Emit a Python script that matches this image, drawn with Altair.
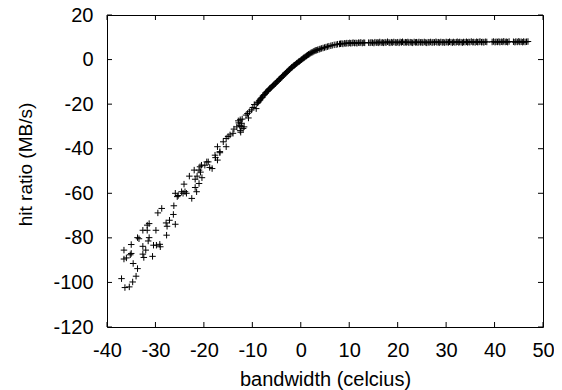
import altair as alt
import pandas as pd

x_ticks = [-40, -30, -20, -10, 0, 10, 20, 30, 40, 50]
y_ticks = [-120, -100, -80, -60, -40, -20, 0, 20]

steep_points = [
    (-37.0, -98.3), (-36.3, -102.3), (-35.4, -102.0), (-34.7, -99.8), (-34.0, -97.2),
    (-33.7, -93.8), (-34.6, -91.5), (-36.5, -89.5), (-36.0, -89.0), (-36.5, -85.5),
    (-35.0, -87.0), (-35.2, -87.6), (-35.0, -83.0), (-33.7, -79.9), (-33.4, -80.4),
    (-32.6, -76.6), (-31.7, -74.3), (-31.3, -73.6), (-31.7, -76.6), (-32.6, -83.8),
    (-32.6, -87.3), (-32.4, -88.8), (-32.0, -85.5), (-31.5, -81.4), (-31.3, -79.9),
    (-30.6, -88.3), (-30.4, -83.3), (-29.9, -76.6), (-29.8, -83.3), (-29.1, -82.9),
    (-29.0, -84.0), (-29.5, -68.8), (-28.7, -66.8), (-27.8, -73.3), (-27.6, -74.8),
    (-27.7, -78.8), (-27.1, -72.1), (-26.3, -69.5), (-25.9, -73.9), (-26.2, -65.6),
    (-25.9, -60.0), (-25.5, -61.5), (-25.3, -61.0), (-24.6, -59.3), (-24.3, -60.0),
    (-23.9, -59.3), (-24.1, -55.9), (-23.6, -60.0), (-22.5, -62.3), (-23.0, -52.3),
    (-22.0, -49.6), (-21.8, -53.7), (-21.8, -57.4), (-21.5, -59.3), (-21.4, -52.3),
    (-21.0, -49.6), (-21.0, -55.6), (-20.7, -50.5), (-20.5, -47.4), (-20.4, -53.0),
    (-20.8, -48.1), (-19.8, -47.4), (-19.4, -45.9), (-19.1, -45.9), (-18.8, -48.4),
    (-18.3, -48.9), (-17.7, -42.9), (-17.6, -44.0), (-17.2, -45.1), (-17.2, -39.1),
    (-16.7, -41.8), (-16.7, -41.3), (-16.0, -36.9), (-15.4, -39.1), (-15.4, -35.4),
    (-15.0, -34.5), (-14.6, -33.8), (-14.0, -33.1), (-13.8, -31.2), (-13.2, -30.2),
    (-12.9, -27.5), (-12.8, -28.4), (-12.6, -29.5), (-12.5, -31.9), (-12.5, -27.0),
    (-12.4, -32.6), (-12.3, -30.0), (-12.2, -28.6), (-12.1, -26.7), (-11.9, -30.9),
    (-11.7, -30.2), (-11.3, -24.9), (-11.0, -24.2), (-10.8, -26.2), (-10.6, -23.4),
    (-10.2, -22.6), (-9.9, -21.5), (-9.6, -20.2), (-9.2, -22.0), (-9.0, -19.5),
]

curve_points = [
    (-8.9, -19.4), (-8.7, -19.0), (-8.6, -18.5), (-8.4, -18.1), (-8.3, -17.6),
    (-8.1, -17.2), (-7.9, -16.9), (-7.8, -16.3), (-7.6, -15.9), (-7.5, -15.7),
    (-7.3, -15.1), (-7.2, -14.9), (-7.0, -14.4), (-6.9, -14.2), (-6.7, -13.8),
    (-6.6, -13.4), (-6.4, -13.1), (-6.3, -12.8), (-6.1, -12.5), (-5.9, -12.0),
    (-5.8, -11.8), (-5.6, -11.5), (-5.5, -11.2), (-5.3, -10.8), (-5.2, -10.6),
    (-5.0, -10.1), (-4.8, -9.8), (-4.7, -9.5), (-4.5, -9.1), (-4.4, -8.8),
    (-4.2, -8.5), (-4.0, -8.0), (-3.9, -7.8), (-3.7, -7.3), (-3.6, -7.1),
    (-3.4, -6.7), (-3.2, -6.3), (-3.1, -6.1), (-2.9, -5.7), (-2.8, -5.4),
    (-2.6, -5.0), (-2.4, -4.6), (-2.3, -4.4), (-2.1, -4.0), (-1.9, -3.6),
    (-1.8, -3.4), (-1.6, -3.0), (-1.4, -2.6), (-1.3, -2.5), (-1.1, -2.2),
    (-0.9, -1.8), (-0.8, -1.6), (-0.6, -1.3), (-0.4, -0.9), (-0.3, -0.8),
    (-0.1, -0.5), (0.1, -0.1), (0.2, 0.0), (0.4, 0.4), (0.6, 0.7),
    (0.7, 0.9), (0.9, 1.2), (1.1, 1.5), (1.2, 1.7), (1.4, 2.0),
    (1.6, 2.3), (1.7, 2.4), (1.9, 2.7), (2.1, 3.0), (2.3, 3.2),
    (2.5, 3.4), (2.7, 3.7), (2.9, 3.9), (3.1, 4.1), (3.3, 4.2),
    (3.5, 4.4), (3.8, 4.6), (4.0, 4.8), (4.3, 5.0), (4.6, 5.2),
    (4.9, 5.4), (5.2, 5.6), (5.5, 5.8), (5.8, 6.0), (6.2, 6.2),
    (6.5, 6.4), (6.9, 6.6), (7.3, 6.7), (7.6, 6.9), (8.0, 7.0),
]

plateau_points = [
    (8.2, 7.1), (8.5, 7.2), (8.7, 7.0), (9.0, 7.3), (9.3, 7.2), (9.5, 7.4), (9.8, 7.3),
    (10.1, 7.5), (10.3, 7.3), (10.6, 7.4), (10.8, 7.6), (11.1, 7.4), (11.4, 7.5),
    (11.6, 7.3), (11.9, 7.6), (12.2, 7.5), (12.4, 7.7), (12.7, 7.4), (13.0, 7.6),
    (13.2, 7.5), (14.0, 7.6), (14.3, 7.5), (14.5, 7.7), (14.8, 7.6), (15.1, 7.4),
    (15.3, 7.8), (15.6, 7.6), (15.9, 7.7), (16.1, 7.5), (16.3, 7.9), (16.6, 7.6),
    (16.9, 7.7), (17.1, 7.5), (17.4, 7.8), (17.6, 7.6), (17.9, 8.0), (18.2, 7.7),
    (18.4, 7.5), (18.7, 7.8), (18.9, 7.6), (19.2, 7.9), (19.5, 7.7), (19.7, 7.6),
    (20.0, 7.8), (20.3, 7.5), (20.5, 7.9), (20.8, 7.7), (21.0, 8.0), (21.3, 7.6),
    (21.6, 7.8), (21.8, 7.7), (22.1, 7.9), (22.3, 7.6), (22.6, 7.8), (22.9, 7.7),
    (23.1, 7.5), (23.4, 7.9), (23.7, 7.7), (23.9, 7.8), (24.2, 7.6), (24.4, 7.9),
    (24.7, 7.7), (25.0, 7.8), (25.2, 7.6), (25.5, 7.9), (25.8, 7.7), (26.0, 7.5),
    (26.3, 7.8), (26.5, 7.7), (26.8, 7.9), (27.1, 7.6), (27.3, 7.8), (27.6, 7.7),
    (27.9, 8.0), (28.1, 7.7), (28.4, 7.8), (28.6, 7.6), (28.9, 7.9), (29.2, 7.7),
    (29.4, 7.8), (29.7, 7.6), (30.0, 7.9), (30.2, 7.8), (30.5, 7.7), (30.7, 8.0),
    (31.0, 7.8), (31.3, 7.6), (31.5, 7.9), (31.8, 7.7), (32.1, 7.8), (32.3, 8.0),
    (32.6, 7.7), (32.8, 7.9), (33.1, 7.8), (33.4, 7.6), (33.6, 7.9), (33.9, 7.8),
    (34.2, 8.0), (34.4, 7.7), (34.7, 7.9), (34.9, 7.8), (35.2, 8.1), (35.5, 7.8),
    (35.7, 7.9), (36.0, 7.7), (36.3, 8.0), (36.5, 7.8), (36.8, 7.9), (37.0, 8.1),
    (37.3, 7.8), (37.6, 7.9), (37.8, 7.7), (38.1, 8.0), (38.4, 7.9),
    (39.5, 7.9), (39.8, 8.1), (40.1, 7.8), (40.3, 8.0), (40.6, 7.9), (40.9, 8.1),
    (41.1, 7.8), (41.4, 8.0), (41.7, 7.9), (41.9, 8.2), (42.2, 7.9), (42.5, 8.0),
    (42.7, 7.8), (43.0, 8.1),
    (43.9, 8.0), (44.2, 7.8), (44.4, 8.1), (44.7, 7.9), (45.0, 8.2), (45.2, 7.9),
    (45.5, 8.0), (45.8, 7.8), (46.0, 8.1), (46.3, 7.9), (46.6, 8.0), (46.9, 8.1),
]

df = pd.DataFrame(steep_points + curve_points + plateau_points, columns=["x", "y"])
xt = pd.DataFrame({"x": x_ticks})
yt = pd.DataFrame({"y": y_ticks})

W, H = 436, 312
FONT = "Liberation Sans"
FS = 20
TICK = 5

xscale = alt.Scale(domain=[-40, 50], nice=False, zero=False)
yscale = alt.Scale(domain=[-120, 20], nice=False, zero=False)

xaxis = alt.Axis(
    values=x_ticks, tickSize=0, domain=False, grid=False,
    labelExpr="toString(datum.value)",
    labelFont=FONT, labelFontSize=FS, labelColor="black", labelPadding=13,
    labelFlush=False, labelOverlap=False,
    title="bandwidth (celcius)", titleFont=FONT, titleFontSize=20,
    titleFontWeight="normal", titleColor="black",
    titleX=W / 2, titleY=58, titleAlign="center", titleBaseline="alphabetic",
)
yaxis = alt.Axis(
    values=y_ticks, tickSize=0, domain=False, grid=False,
    labelExpr="toString(datum.value)",
    labelFont=FONT, labelFontSize=FS, labelColor="black", labelPadding=14,
    labelFlush=False, labelOverlap=False,
    title="hit ratio (MB/s)", titleFont=FONT, titleFontSize=19,
    titleFontWeight="normal", titleColor="black",
    titleX=-82, titleY=149, titleAlign="center", titleBaseline="middle", titleAngle=270,
)

X = alt.X("x:Q", scale=xscale, axis=xaxis)
Y = alt.Y("y:Q", scale=yscale, axis=yaxis)

points = alt.Chart(df).mark_point(
    shape="M-1,0L1,0M0,-1L0,1", filled=False, size=42,
    strokeWidth=1, color="black", opacity=1,
).encode(x=X, y=Y)

rule_style = dict(color="black", strokeWidth=1)
xb = alt.Chart(xt).mark_rule(**rule_style).encode(x=X, y=alt.value(H), y2=alt.value(H - TICK))
xtp = alt.Chart(xt).mark_rule(**rule_style).encode(x=X, y=alt.value(0), y2=alt.value(TICK))
yl = alt.Chart(yt).mark_rule(**rule_style).encode(y=Y, x=alt.value(0), x2=alt.value(TICK))
yr = alt.Chart(yt).mark_rule(**rule_style).encode(y=Y, x=alt.value(W), x2=alt.value(W - TICK))

chart = alt.layer(points, xb, xtp, yl, yr).properties(
    width=W, height=H,
    padding={"left": 99, "top": 7, "right": 11, "bottom": 63},
    autosize=alt.AutoSizeParams(type="none"),
    background="white",
).configure_view(stroke="black", strokeWidth=1)

chart.save("out.html", embed_options={"renderer": "svg", "actions": False})
